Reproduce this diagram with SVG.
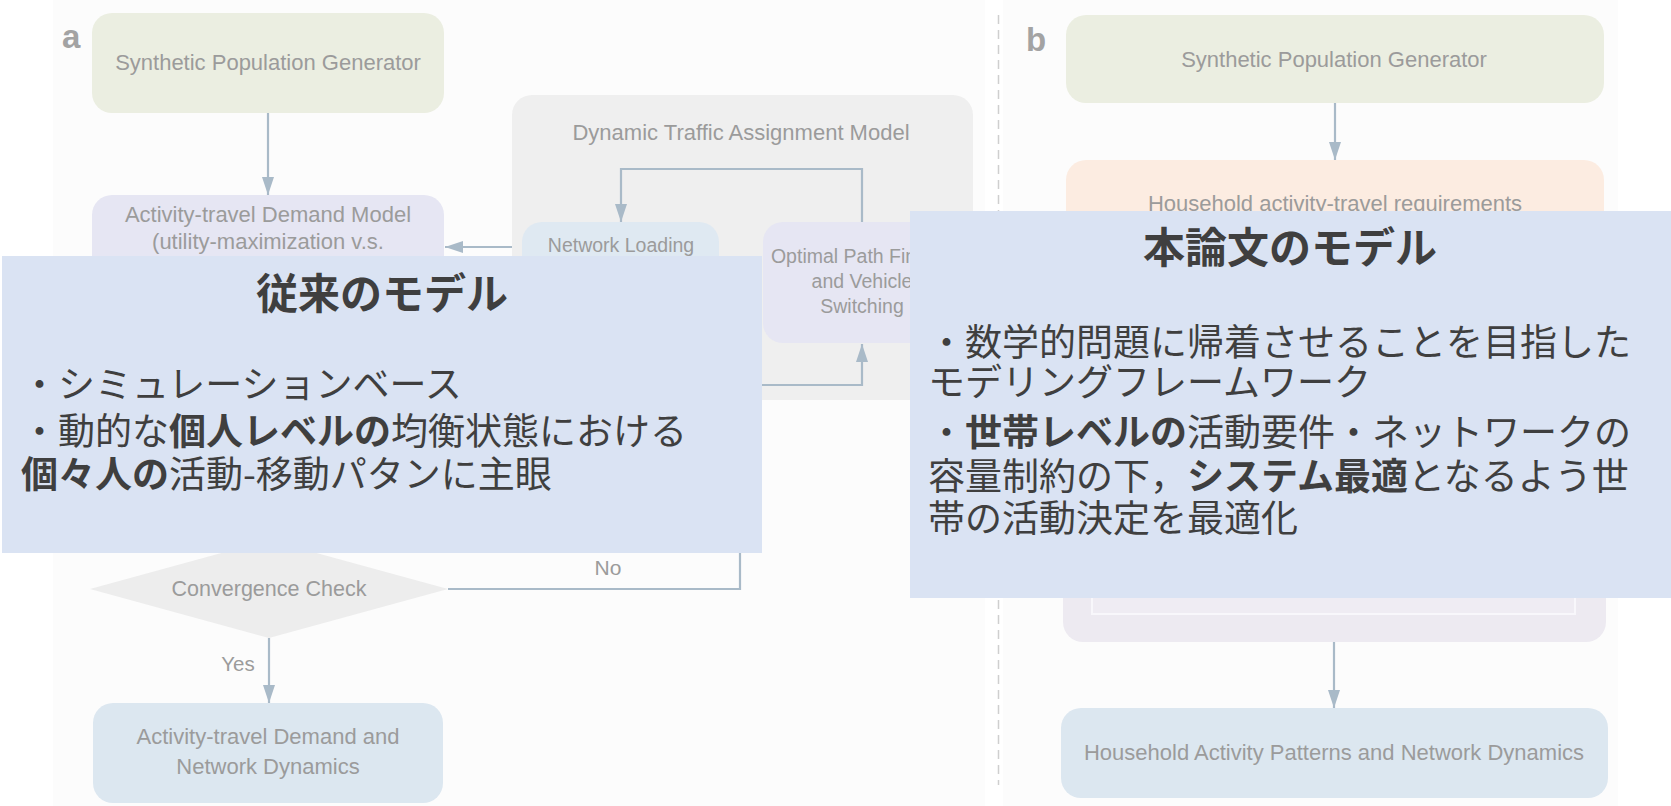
<svg xmlns="http://www.w3.org/2000/svg" width="1671" height="806" viewBox="0 0 1671 806">
<defs>
<style>
.lbl{font-family:"Liberation Sans",Arial,sans-serif;fill:#9b9b9b;text-anchor:middle;font-size:22px}
.sm{font-size:19.5px}
.tag{font-family:"Liberation Sans",Arial,sans-serif;fill:#a3a3a3;font-weight:bold;font-size:33px}
.con{fill:none;stroke:#a9bac8;stroke-width:2.2}
.ov{fill:#dae3f3}
.jt{font-family:"Noto Sans CJK JP","Noto Sans",sans-serif;fill:#3f3f3f;font-size:37px}
.jh{font-family:"Noto Sans CJK JP","Noto Sans",sans-serif;fill:#3f3f3f;font-size:42px;font-weight:bold;text-anchor:middle}
.b{font-weight:bold}
</style>
<marker id="ah" viewBox="0 0 18 12" refX="18" refY="6" markerWidth="18" markerHeight="12" markerUnits="userSpaceOnUse" orient="auto">
<path d="M0,0 L18,6 L0,12 z" fill="#a9bac8"/>
</marker>
</defs>
<rect width="1671" height="806" fill="#ffffff"/>
<rect x="53" y="0" width="932" height="806" fill="#fcfcfc"/>
<rect x="1003" y="0" width="615" height="806" fill="#fcfcfc"/>
<line x1="998.5" y1="15" x2="998.5" y2="785" stroke="#cfcfcf" stroke-width="1.5" stroke-dasharray="9,6"/>
<text class="tag" x="62" y="48">a</text>
<text class="tag" x="1026" y="51">b</text>

<g id="dta">
<rect x="512" y="95" width="461" height="305" rx="20" fill="#efefef"/>
<text class="lbl" x="741" y="140">Dynamic Traffic Assignment Model</text>
</g>
<g id="spg-a">
<rect x="92" y="13" width="352" height="100" rx="20" fill="#ebeee1"/>
<text class="lbl" x="268" y="70">Synthetic Population Generator</text>
</g>
<g id="atdm">
<rect x="92" y="195" width="352" height="200" rx="20" fill="#e6e6f3"/>
<text class="lbl" x="268" y="222">Activity-travel Demand Model</text>
<text class="lbl" x="268" y="249">(utility-maximization v.s.</text>
</g>
<g id="nl">
<rect x="522" y="222" width="197" height="121" rx="20" fill="#dfe9f2"/>
<text class="lbl sm" x="621" y="252">Network Loading</text>
</g>
<g id="opf">
<rect x="763" y="222" width="199" height="121" rx="20" fill="#e6e6f3"/>
<text class="lbl sm" x="862" y="263">Optimal Path Finding</text>
<text class="lbl sm" x="862" y="288">and Vehicle</text>
<text class="lbl sm" x="862" y="313">Switching</text>
</g>
<g id="conv">
<polygon points="269,540 448,589 269,638 90,589" fill="#ededed"/>
<text class="lbl" x="269" y="596" style="font-size:21.5px">Convergence Check</text>
</g>
<g id="out-a">
<rect x="93" y="703" width="350" height="100" rx="20" fill="#dce7f0"/>
<text class="lbl" x="268" y="744">Activity-travel Demand and</text>
<text class="lbl" x="268" y="774">Network Dynamics</text>
</g>

<g id="spg-b">
<rect x="1066" y="15" width="538" height="88" rx="20" fill="#ebeee1"/>
<text class="lbl" x="1334" y="67">Synthetic Population Generator</text>
</g>
<g id="hatr">
<rect x="1066" y="160" width="538" height="120" rx="20" fill="#fcece1"/>
<text class="lbl" x="1335" y="211">Household activity-travel requirements</text>
</g>
<g id="opt-b">
<rect x="1063" y="420" width="543" height="222" rx="20" fill="#edeaf1"/>
<rect x="1092" y="450" width="483" height="164" fill="#efecf3" stroke="#f8f7fb" stroke-width="2"/>
</g>
<g id="out-b">
<rect x="1061" y="708" width="547" height="90" rx="20" fill="#dce7f0"/>
<text class="lbl" x="1334" y="760">Household Activity Patterns and Network Dynamics</text>
</g>

<g id="connectors">
<path class="con" d="M268,113 V195" marker-end="url(#ah)"/>
<path class="con" d="M512,247 H445" marker-end="url(#ah)"/>
<path class="con" d="M862,222 V169 H621 V222" marker-end="url(#ah)"/>
<path class="con" d="M448,589 H740 V385 H862 V344" marker-end="url(#ah)"/>
<path class="con" d="M269,638 V703" marker-end="url(#ah)"/>
<text class="lbl" x="608" y="575" style="font-size:21px">No</text>
<text class="lbl" x="238" y="671" style="font-size:20.5px">Yes</text>
<path class="con" d="M1335,103 V160" marker-end="url(#ah)"/>
<path class="con" d="M1334,642 V708" marker-end="url(#ah)"/>
</g>

<g id="note-left">
<rect class="ov" x="2" y="256" width="760" height="297"/>
<text class="jh" x="382" y="309">従来のモデル</text>
<text class="jt" x="21" y="398">・シミュレーションベース</text>
<text class="jt" x="21" y="445">・動的な<tspan class="b">個人レベルの</tspan>均衡状態における</text>
<text class="jt" x="21" y="488"><tspan class="b">個々人の</tspan>活動-移動パタンに主眼</text>
</g>
<g id="note-right">
<rect class="ov" x="910" y="211" width="761" height="387"/>
<text class="jh" x="1290" y="263">本論文のモデル</text>
<text class="jt" x="928" y="356">・数学的問題に帰着させることを目指した</text>
<text class="jt" x="928" y="396">モデリングフレームワーク</text>
<text class="jt" x="928" y="446">・<tspan class="b">世帯レベルの</tspan>活動要件・ネットワークの</text>
<text class="jt" x="928" y="490">容量制約の下，<tspan class="b">システム最適</tspan>となるよう世</text>
<text class="jt" x="928" y="532">帯の活動決定を最適化</text>
</g>
</svg>
